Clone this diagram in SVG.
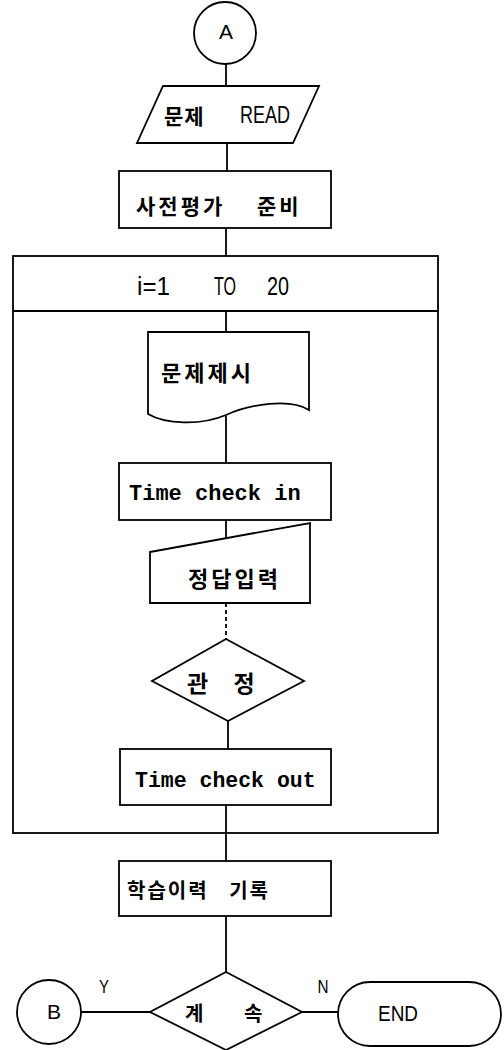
<svg xmlns="http://www.w3.org/2000/svg" width="504" height="1050" viewBox="0 0 504 1050">
<style>
.s{fill:none;stroke:#000;stroke-width:1.8}
.c{fill:none;stroke:#000;stroke-width:1.8}
.k{font-family:"Noto Sans CJK KR","Noto Sans",sans-serif;font-weight:bold;fill:#000}
.m{font-family:"Liberation Mono",monospace;font-weight:bold;fill:#000}
.a{font-family:"Liberation Sans",Arial,sans-serif;fill:#000}
</style>
<rect width="504" height="1050" fill="#fff"/>
<g id="connectors">
<line class="c" x1="226" y1="63" x2="226" y2="86"/>
<line class="c" x1="227" y1="143" x2="227" y2="171"/>
<line class="c" x1="226" y1="228" x2="226" y2="256"/>
<line class="c" x1="226" y1="311" x2="226" y2="332"/>
<line class="c" x1="226" y1="416" x2="226" y2="463"/>
<line class="c" x1="226" y1="520" x2="226" y2="538"/>
<line class="c" x1="226" y1="603" x2="226" y2="639" stroke-dasharray="4,3" stroke-width="1.2"/>
<line class="c" x1="228" y1="721" x2="228" y2="749"/>
<line class="c" x1="226" y1="805" x2="226" y2="861"/>
<line class="c" x1="226" y1="916" x2="226" y2="972"/>
<line class="c" x1="81" y1="1012" x2="150" y2="1012"/>
<line class="c" x1="302" y1="1012" x2="338" y2="1012"/>
<text class="a" x="104" y="993" font-size="19" text-anchor="middle" textLength="10" lengthAdjust="spacingAndGlyphs">Y</text>
<text class="a" x="323" y="993" font-size="19" text-anchor="middle" textLength="11" lengthAdjust="spacingAndGlyphs">N</text>
</g>
<g id="nodeA">
<circle class="s" cx="225" cy="33" r="31"/>
<text class="a" x="226" y="39" font-size="21" text-anchor="middle">A</text>
</g>
<g id="read">
<polygon class="s" points="163,86 319,86 293,143 137,143"/>
<text class="k" x="164" y="124" font-size="21" letter-spacing="1">문제</text>
<text class="a" x="240" y="123" font-size="23" textLength="50" lengthAdjust="spacingAndGlyphs">READ</text>
</g>
<g id="prep">
<rect class="s" x="119" y="171" width="212" height="57"/>
<text class="k" x="136" y="214" font-size="21" letter-spacing="3" word-spacing="24">사전평가 준비</text>
</g>
<g id="loop">
<rect class="s" x="13" y="256" width="425" height="577"/>
<line class="s" x1="13" y1="311" x2="438" y2="311"/>
<text class="a" font-size="25" y="295"><tspan x="137" textLength="33" lengthAdjust="spacingAndGlyphs">i=1</tspan><tspan x="214" textLength="22" lengthAdjust="spacingAndGlyphs">TO</tspan><tspan x="267" textLength="22" lengthAdjust="spacingAndGlyphs">20</tspan></text>
</g>
<g id="present">
<path class="s" d="M148,414 L148,332 L309,332 L309,410 C290,398 250,404 226,415 C200,426 165,424 148,414 Z"/>
<text class="k" x="161" y="381" font-size="22" letter-spacing="3">문제제시</text>
</g>
<g id="timein">
<rect class="s" x="119" y="463" width="212" height="57"/>
<text class="m" x="129" y="500" font-size="22">Time check in</text>
</g>
<g id="answer">
<polygon class="s" points="150,552 310,523 310,603 150,603"/>
<text class="k" x="188" y="587" font-size="22" letter-spacing="3">정답입력</text>
</g>
<g id="judge">
<polygon class="s" points="226,639 304,681 228,721 152,681"/>
<text class="k" x="187" y="692" font-size="23" letter-spacing="6" word-spacing="8">관 정</text>
</g>
<g id="timeout">
<rect class="s" x="120" y="749" width="211" height="56"/>
<text class="m" x="135" y="787" font-size="21.5">Time check out</text>
</g>
<g id="record">
<rect class="s" x="119" y="861" width="212" height="55"/>
<text class="k" x="127" y="898" font-size="20" letter-spacing="2" word-spacing="14">학습이력 기록</text>
</g>
<g id="continue">
<polygon class="s" points="226,972 302,1012 226,1050 150,1012"/>
<text class="k" x="185" y="1021" font-size="20" letter-spacing="7" word-spacing="22">계 속</text>
</g>
<g id="nodeB">
<circle class="s" cx="49" cy="1012" r="32"/>
<text class="a" x="54" y="1019" font-size="21" text-anchor="middle">B</text>
</g>
<g id="end">
<rect class="s" x="338" y="982" width="163" height="64" rx="32"/>
<text class="a" x="378" y="1021" font-size="22" textLength="40" lengthAdjust="spacingAndGlyphs">END</text>
</g>
</svg>
